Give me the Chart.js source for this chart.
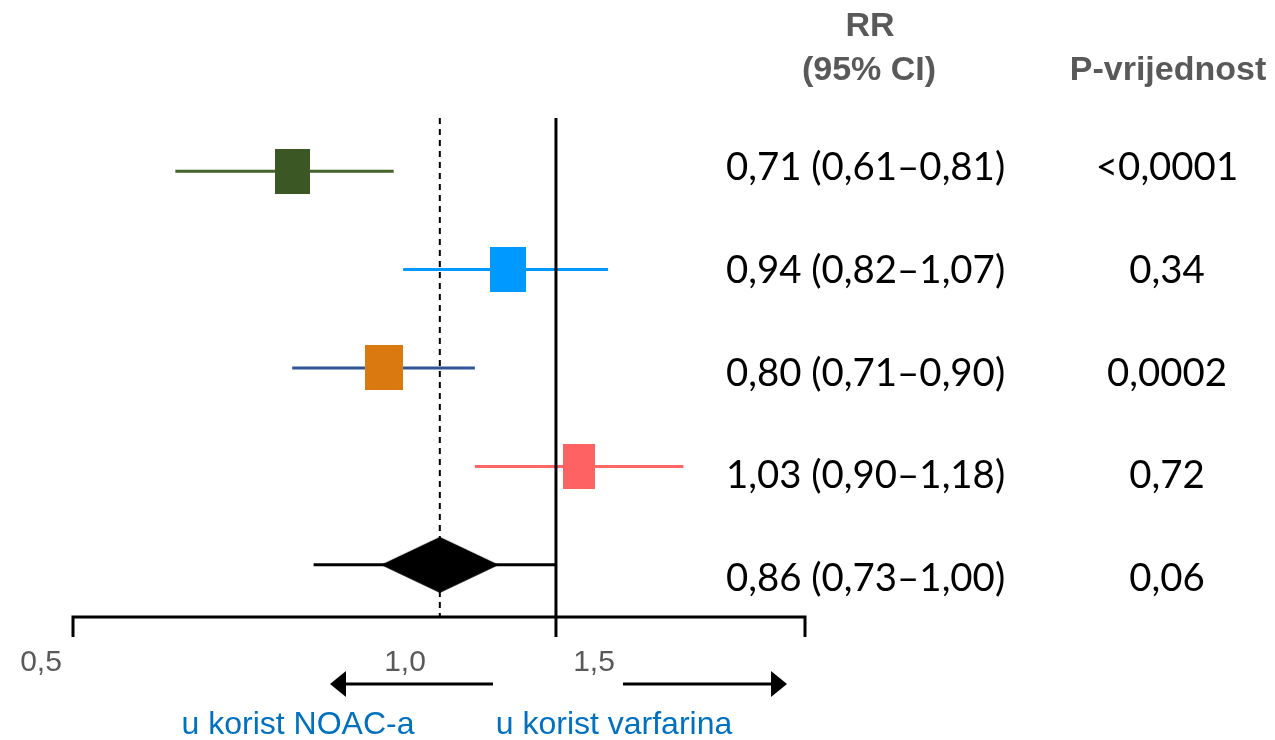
<!DOCTYPE html>
<html><head><meta charset="utf-8">
<script src="https://cdn.jsdelivr.net/npm/chart.js@4.4.0/dist/chart.umd.min.js"></script>
<style>html,body{margin:0;padding:0;background:#fff;overflow:hidden}canvas{display:block}</style>
</head><body>
<canvas id="c" width="1275" height="740"></canvas>
<script>
// ---------- data ----------
const rows = [1, 2, 3, 4, 5];
const rr = [0.71, 0.94, 0.80, 1.03, 0.86];
const ciLow = [0.61, 0.82, 0.71, 0.90, 0.73];
const ciHigh = [0.81, 1.07, 0.90, 1.18, 1.00];
const pValues = ['<0,0001', '0,34', '0,0002', '0,72', '0,06'];
const tickLabels = ['0,5', '1,0', '1,5'];
const directionLabels = ['u korist NOAC-a', 'u korist varfarina'];
const headerRR = ['RR', '(95% CI)'];
const headerP = 'P-vrijednost';
const refValue = 1.0;
const pooledIndex = 4;

// ---------- styles / layout ----------
const markerColors = ['#3B5724', '#0099FF', '#D9790F', '#FF6262', '#000000'];
const lineColors = ['#44632B', '#0099FF', '#2F5597', '#FF6666', '#000000'];
const boxWidths = [35, 36, 38, 32];
const boxHeight = 45;
const diamondSize = [118, 56];
const xRange = [0.5341, 1.3818];
const yRange = [0.46, 5.53];

function fmt(v) { return v.toFixed(2).replace('.', ','); }
const rrStrings = rr.map((v, i) => fmt(v) + ' (' + fmt(ciLow[i]) + '\u2013' + fmt(ciHigh[i]) + ')');

function makeMarker(i) {
  const c = document.createElement('canvas');
  const g = c.getContext('2d');
  if (i === pooledIndex) {
    c.width = diamondSize[0]; c.height = diamondSize[1];
    g.fillStyle = markerColors[i];
    g.beginPath();
    g.moveTo(0, c.height / 2); g.lineTo(c.width / 2, 0);
    g.lineTo(c.width, c.height / 2); g.lineTo(c.width / 2, c.height);
    g.closePath(); g.fill();
  } else {
    c.width = boxWidths[i]; c.height = boxHeight;
    g.fillStyle = markerColors[i];
    g.fillRect(0, 0, c.width, c.height);
  }
  return c;
}
const markers = rows.map((r, i) => makeMarker(i));

const ciDatasets = rows.map((r, i) => ({
  data: [{x: ciLow[i], y: r}, {x: ciHigh[i], y: r}],
  showLine: true, borderColor: lineColors[i], borderWidth: 3,
  pointRadius: 0, borderCapStyle: 'butt'
}));

const textPlugin = {
  id: 'forestText',
  afterDraw(chart) {
    const {ctx, chartArea, scales: {x}} = chart;
    ctx.save();
    // axis with ticks
    const yA = chartArea.bottom;
    const xs = [x.min, refValue, x.max].map(v => x.getPixelForValue(v));
    ctx.strokeStyle = '#000'; ctx.lineWidth = 3; ctx.lineCap = 'butt'; ctx.lineJoin = 'miter';
    ctx.beginPath();
    ctx.moveTo(xs[0], yA + 20); ctx.lineTo(xs[0], yA); ctx.lineTo(xs[2], yA); ctx.lineTo(xs[2], yA + 20);
    ctx.moveTo(xs[1], yA); ctx.lineTo(xs[1], yA + 20);
    ctx.stroke();

    // tick labels (placed as on the slide)
    ctx.fillStyle = '#595959';
    ctx.font = '30px "Liberation Sans", Arial, sans-serif';
    ctx.textAlign = 'center'; ctx.textBaseline = 'alphabetic';
    const tickX = [41, 405, 594];
    tickLabels.forEach((t, i) => ctx.fillText(t, tickX[i], 671));

    // arrows
    ctx.strokeStyle = '#000'; ctx.fillStyle = '#000'; ctx.lineWidth = 3;
    const ay = 684;
    ctx.beginPath(); ctx.moveTo(493, ay); ctx.lineTo(344, ay); ctx.stroke();
    ctx.beginPath(); ctx.moveTo(330, ay); ctx.lineTo(346, ay - 13); ctx.lineTo(346, ay + 13); ctx.closePath(); ctx.fill();
    ctx.beginPath(); ctx.moveTo(623, ay); ctx.lineTo(774, ay); ctx.stroke();
    ctx.beginPath(); ctx.moveTo(787, ay); ctx.lineTo(771, ay - 13); ctx.lineTo(771, ay + 13); ctx.closePath(); ctx.fill();

    // direction labels
    ctx.fillStyle = '#0070C0';
    ctx.font = '32px "Liberation Sans", Arial, sans-serif';
    ctx.fillText(directionLabels[0], 298, 734);
    ctx.fillText(directionLabels[1], 614, 734);

    // headers
    ctx.fillStyle = '#595959';
    ctx.font = 'bold 34px "Liberation Sans", Arial, sans-serif';
    ctx.fillText(headerRR[0], 870, 36);
    ctx.fillText(headerRR[1], 869, 80);
    ctx.fillText(headerP, 1168, 80);

    // row texts
    ctx.font = '100px Lato';
    const w = ctx.measureText(rrStrings[0]).width;
    const size = 100 * 279 / w;
    ctx.font = size.toFixed(1) + 'px Lato';
    ctx.fillStyle = '#000';
    rows.forEach((r, i) => {
      const by = 180 + i * 102.75;
      ctx.textAlign = 'left';
      ctx.fillText(rrStrings[i], 726, by);
      ctx.textAlign = 'center';
      ctx.fillText(pValues[i], 1167, by);
    });
    ctx.restore();
  }
};

new Chart(document.getElementById('c'), {
  type: 'scatter',
  data: {
    datasets: [
      { data: rows.map((r, i) => ({x: rr[i], y: r})), pointStyle: markers, pointRadius: 5, showLine: false },
      { data: [{x: refValue, y: yRange[0]}, {x: refValue, y: yRange[1]}], showLine: true, borderColor: '#000', borderWidth: 3, pointRadius: 0 },
      { data: [{x: rr[pooledIndex], y: yRange[0]}, {x: rr[pooledIndex], y: yRange[1]}], showLine: true, borderColor: '#000', borderWidth: 2, borderDash: [6, 5], pointRadius: 0 },
      ...ciDatasets
    ]
  },
  options: {
    responsive: false, animation: false, devicePixelRatio: 1, events: [],
    layout: { padding: { left: 73, right: 470, top: 118, bottom: 123 } },
    scales: {
      x: { type: 'logarithmic', min: xRange[0], max: xRange[1], bounds: 'data', display: false },
      y: { type: 'linear', min: yRange[0], max: yRange[1], reverse: true, display: false }
    },
    plugins: { legend: { display: false }, tooltip: { enabled: false } }
  },
  plugins: [textPlugin]
});
</script>
</body></html>
